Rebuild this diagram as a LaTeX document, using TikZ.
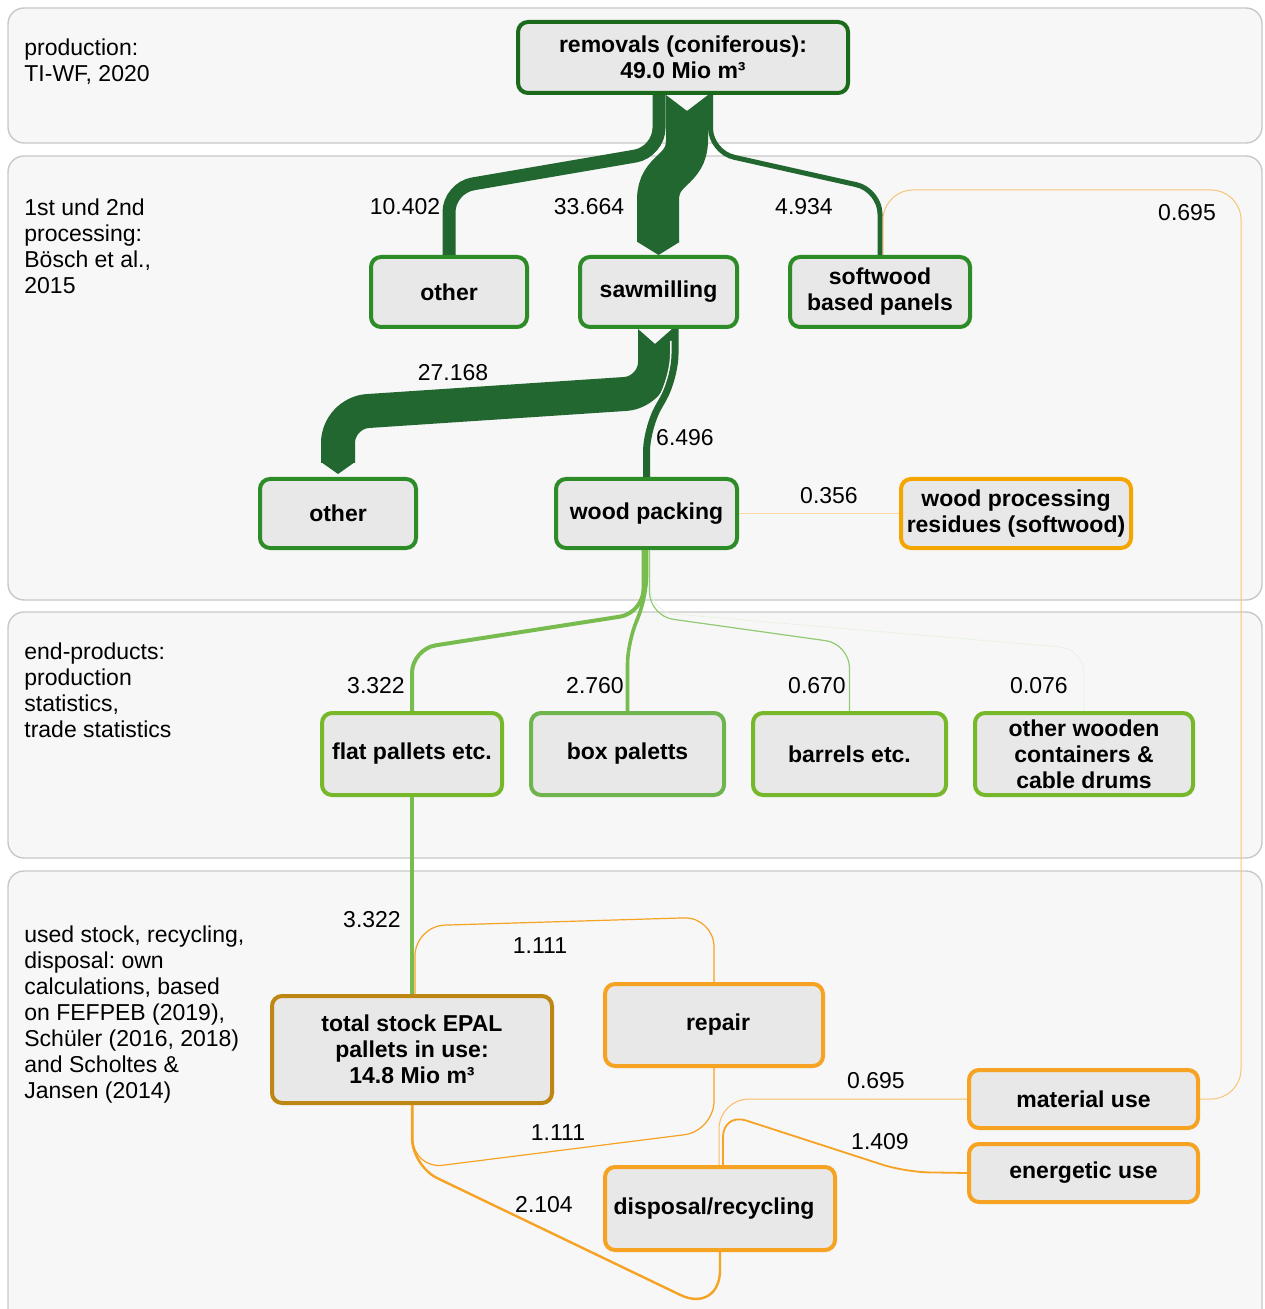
\documentclass[tikz,border=0pt]{standalone}
\usepackage{fontspec}
\setmainfont{Liberation Sans}
\frenchspacing

\definecolor{ccpanel}{RGB}{247,247,247}
\definecolor{ccpanelline}{RGB}{200,200,200}
\definecolor{ccbox}{RGB}{232,232,232}
\definecolor{ccforest}{RGB}{27,105,27}
\definecolor{ccgreen}{RGB}{45,140,40}
\definecolor{cclime}{RGB}{118,184,42}
\definecolor{ccsage}{RGB}{112,180,80}
\definecolor{ccamber}{RGB}{245,165,0}
\definecolor{ccorange}{RGB}{246,162,35}
\definecolor{ccgold}{RGB}{190,135,20}
\definecolor{ccflow}{RGB}{34,102,48}
\definecolor{ccleaf}{RGB}{120,188,80}
\definecolor{ccpeach}{RGB}{248,196,120}

\begin{document}
\begin{tikzpicture}[x=0.5pt, y=-0.5pt, font=\fontsize{11.5}{13}\selectfont,
  panel/.style={draw=ccpanelline, fill=ccpanel, line width=0.7pt, rounded corners=8pt},
  box/.style={draw, fill=ccbox, line width=2pt, rounded corners=5pt, align=center, inner sep=0pt,
    font=\fontsize{11.5}{13}\selectfont\bfseries},
  source/.style={anchor=north west, align=left, inner sep=0pt},
  amount/.style={inner sep=0pt},
  band/.style={draw=ccflow, rounded corners=12pt},
  twig/.style={draw=ccleaf, rounded corners=12pt},
  loop/.style={draw=ccorange, rounded corners=15pt}]

  \useasboundingbox (0,0) rectangle (1264,1309);

  % Panels
  \draw[panel] (8,8) rectangle (1262,143);
  \draw[panel] (8,156) rectangle (1262,600);
  \draw[panel] (8,612) rectangle (1262,858);
  \draw[panel] (8,871) rectangle (1262,1325);

  % Sources
  \draw (24,38) node[source] (srcprod) {production:\\TI-WF, 2020};
  \draw (24,198) node[source] (srcproc) {1st und 2nd\\processing:\\Bösch et al.,\\2015};
  \draw (24,642) node[source] (srcend) {end-products:\\production\\statistics,\\trade statistics};
  \draw (24,925) node[source] (srcuse) {used stock, recycling,\\disposal: own\\calculations, based\\on FEFPEB (2019),\\Schüler (2016, 2018)\\and Scholtes \&\\Jansen (2014)};

  % Nodes
  \draw (683,57.5) node[box, draw=ccforest, minimum width=165pt, minimum height=35.5pt] (removals) {removals (coniferous):\\49.0 Mio m³};
  \draw (449,292) node[box, draw=ccgreen, minimum width=78pt, minimum height=35pt] (otherA) {other};
  \draw (658.5,292) node[box, draw=ccgreen, minimum width=78.5pt, minimum height=35pt] (sawmill) {sawmilling};
  \draw (880,292) node[box, draw=ccgreen, minimum width=90pt, minimum height=35pt] (panels) {softwood\\based panels};
  \draw (338,513.5) node[box, draw=ccgreen, minimum width=78pt, minimum height=34.5pt] (otherB) {other};
  \draw (646.5,513.5) node[box, draw=ccgreen, minimum width=90.5pt, minimum height=34.5pt] (packing) {wood packing};
  \draw (1016,513.5) node[box, draw=ccamber, minimum width=115pt, minimum height=34.5pt] (residues) {wood processing\\residues (softwood)};
  \draw (412,754) node[box, draw=cclime, minimum width=90pt, minimum height=41pt] (flat) {flat pallets etc.};
  \draw (627.5,754) node[box, draw=ccsage, minimum width=96.5pt, minimum height=41pt] (boxp) {box paletts};
  \draw (849.5,754) node[box, draw=cclime, minimum width=96.5pt, minimum height=41pt] (barrels) {barrels etc.};
  \draw (1084,754) node[box, draw=cclime, minimum width=109pt, minimum height=41pt] (otherwood) {other wooden\\containers \&\\cable drums};
  \draw (412,1049.5) node[box, draw=ccgold, minimum width=140pt, minimum height=53.5pt] (stock) {total stock EPAL\\pallets in use:\\14.8 Mio m³};
  \draw (714,1025) node[box, draw=ccorange, minimum width=109pt, minimum height=41pt] (repair) {\hspace*{4pt}repair};
  \draw (1083.5,1099) node[box, draw=ccorange, minimum width=114.5pt, minimum height=29pt] (material) {material use};
  \draw (1083.5,1173) node[box, draw=ccorange, minimum width=114.5pt, minimum height=29pt] (energetic) {energetic use};
  \draw (720,1208.5) node[box, draw=ccorange, minimum width=115pt, minimum height=41.5pt] (disposal) {disposal/recycling\hspace*{6pt}};

  % Removals
  \draw[band, line width=6.5pt] ([xshift=-12pt]removals.south) -- (659,152) -- (449,188) -- (otherA.north);
  \draw[band, line width=2.5pt] ([xshift=13.75pt]removals.south) -- (710.5,152) -- (880,190) -- (panels.north);
  \fill[ccflow] (666,95) -- (687,111) -- (708,95) -- (708,112) -- (666,112) -- cycle;
  \draw[ccflow, line width=21pt] (687,111) -- (687,140) .. controls (687,172) and (658,168) .. (658,200) -- (658,242);
  \fill[ccflow] (sawmill.north) -- ++(-21,-13) -- ++(42,0) -- cycle;

  % Sawmilling
  \fill[ccflow] (638,329) -- (655,344) -- (672,329) -- (672,345) -- (638,345) -- cycle;
  \draw[band, rounded corners=15pt, line width=17pt] (655,344) -- (655,392) -- (338,413) -- (338,463);
  \fill[ccflow] ([yshift=1.5pt]otherB.north) -- ++(-17,-12) -- ++(34,0) -- cycle;
  \draw[band, draw=ccpanel, line width=5pt] ([xshift=8.25pt, yshift=-6pt]sawmill.south) -- (675,378) -- (646.5,428) -- ([yshift=6pt]packing.north);
  \draw[band, line width=3.5pt] ([xshift=8.25pt]sawmill.south) -- (675,378) -- (646.5,428) -- (packing.north);

  % Wood packing
  \draw[draw=ccpeach!70, line width=0.6pt] (packing.east) -- (residues.west);
  \draw[twig, line width=2pt] ([xshift=-1.5pt]packing.south) -- (643.5,613) -- (412,649) -- (flat.north);
  \draw[twig, line width=1.8pt] (packing.south) -- (646.5,600) -- (627.5,640) -- (boxp.north);
  \draw[twig, draw=ccleaf!80, line width=0.6pt] ([xshift=1.5pt]packing.south) -- (649.5,616) -- (849.5,644) -- (barrels.north);
  \draw[twig, draw=ccleaf!20, line width=0.3pt] ([xshift=2pt]packing.south) -- (650.5,612) -- (1084,649) -- (otherwood.north);

  % Used stock
  \draw[draw=ccleaf, line width=2pt] (flat.south) -- (stock.north);
  \draw[loop, line width=0.6pt] ([xshift=1.5pt]stock.north) -- (415,926) -- (714,917) -- (repair.north);
  \draw[loop, line width=0.6pt] (repair.south) -- (714,1131) -- (413,1169) -- ([xshift=0.5pt]stock.south);
  \draw[loop, line width=1.2pt] (stock.south) [rounded corners=14pt] -- (412,1166) [rounded corners=22pt] -- (720,1314) -- (disposal.south);
  \draw[loop, draw=ccorange!70, line width=0.5pt] ([xshift=-0.5pt]disposal.north) |- (material.west);
  \draw[loop, rounded corners=12pt, line width=0.9pt] ([xshift=1.5pt]disposal.north) -- (723,1113) -- (905,1172) -- (energetic.west);
  \draw[loop, draw=ccpeach, line width=0.5pt] ([xshift=1.5pt]panels.north) |- (1241,190) |- (material.east);

  % Amounts
  \draw (405,207) node[amount] (aotherA) {10.402};
  \draw (589,207) node[amount] (asawmill) {33.664};
  \draw (804,207) node[amount] (apanels) {4.934};
  \draw (1187,213) node[amount] (amaterialtop) {0.695};
  \draw (453,373) node[amount] (aotherB) {27.168};
  \draw (685,438) node[amount] (apacking) {6.496};
  \draw (829,496) node[amount] (aresidues) {0.356};
  \draw (376,686) node[amount] (aflat) {3.322};
  \draw (595,686) node[amount] (aboxp) {2.760};
  \draw (817,686) node[amount] (abarrels) {0.670};
  \draw (1039,686) node[amount] (aotherwood) {0.076};
  \draw (372,920) node[amount] (astock) {3.322};
  \draw (540,946) node[amount] (arepair) {1.111};
  \draw (558,1133) node[amount] (areturn) {1.111};
  \draw (544,1205) node[amount] (adisposal) {2.104};
  \draw (876,1081) node[amount] (amaterial) {0.695};
  \draw (880,1142) node[amount] (aenergetic) {1.409};

\end{tikzpicture}
\end{document}
